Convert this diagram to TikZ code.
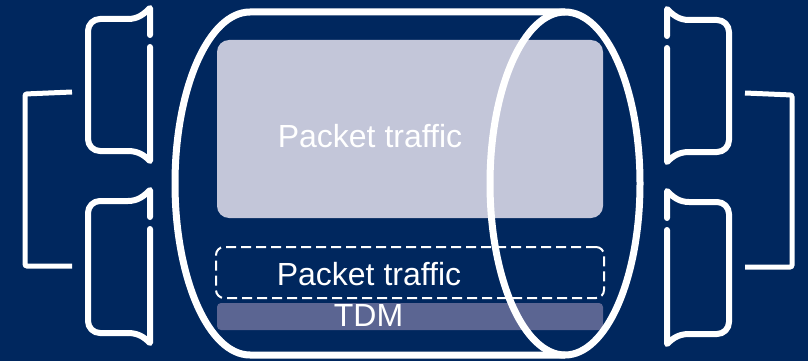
\documentclass[tikz,border=0pt]{standalone}
\usepackage{fontspec}
\setmainfont{Liberation Sans}
\definecolor{bgblue}{HTML}{00275E}
\definecolor{lightbox}{HTML}{C3C6D9}
\definecolor{tdmbox}{HTML}{5B6592}
\tikzset{
  scrollline/.style={draw=white, line width=6pt, line cap=round, line join=round},
  bracketline/.style={draw=white, line width=5pt, rounded corners=2pt},
  pipeline/.style={draw=white, line width=7pt},
  lbl/.style={text=white, font=\fontsize{32}{36}\selectfont, anchor=base, inner sep=0pt},
}
\newcommand{\scrollicon}{%
  \draw[scrollline] (150,35) -- (150,8) .. controls (144,14) and (138,19) .. (128,19);
  \draw[scrollline, rounded corners=12pt] (128,19) -- (88,19) -- (88,151) -- (128,151);
  \draw[scrollline] (128,151) .. controls (138,151) and (144,155) .. (150,161) -- (150,47);
}
\begin{document}
\begin{tikzpicture}[x=1pt,y=-1pt]
  \fill[bgblue] (0,0) rectangle (808,361);
  \useasboundingbox (0,0) rectangle (808,361);

  % left side
  \begin{scope}
    \scrollicon
    \begin{scope}[shift={(0,182)}]
      \scrollicon
    \end{scope}
    \draw[bracketline] (72,92) -- (25,94) -- (25,266) -- (72,266);
  \end{scope}
  % right side (mirrored)
  \begin{scope}[shift={(817,1)}, xscale=-1]
    \scrollicon
    \begin{scope}[shift={(0,182)}]
      \scrollicon
    \end{scope}
    \draw[bracketline] (72,92) -- (25,94) -- (25,266) -- (72,266);
  \end{scope}

  % boxes
  \node[fill=lightbox, rounded corners=12pt, minimum width=386pt, minimum height=178pt, inner sep=0pt] (pkt) at (410,129) {};
  \node[draw=white, line width=2pt, dash pattern=on 10pt off 5pt, rounded corners=8pt, minimum width=388pt, minimum height=51pt, inner sep=0pt] (dpkt) at (410,272.5) {};
  \node[fill=tdmbox, rounded corners=4pt, minimum width=386pt, minimum height=27pt, inner sep=0pt] (tdm) at (410,316.5) {};

  \node[lbl] (t1) at (370,147) {Packet traffic};
  \node[lbl] (t2) at (369,285) {Packet traffic};
  \node[lbl] (t3) at (368.5,326) {TDM};

  % pipe
  \coordinate (ptop) at (565,12);
  \coordinate (pbot) at (565,355);
  \draw[pipeline] (ptop) -- (250,12) arc[start angle=90, end angle=270, x radius=75pt, y radius=171.5pt] -- (pbot);
  \draw[pipeline] (565,183.5) ellipse [x radius=75pt, y radius=171.5pt];
\end{tikzpicture}
\end{document}
